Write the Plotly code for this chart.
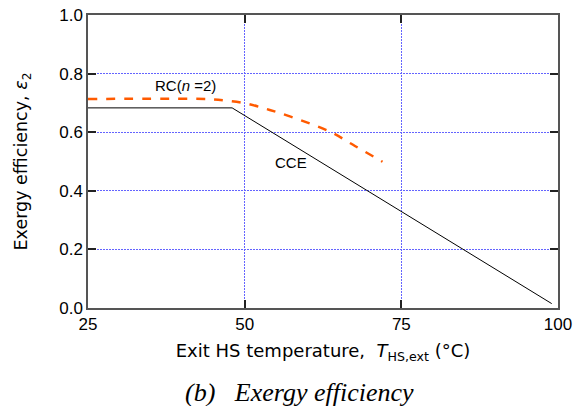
import plotly.graph_objects as go

# CCE data
cce_x = [25, 48, 99]
cce_y = [0.683, 0.683, 0.015]

# RC (n=2) data
rc_x = [25, 44, 47, 50, 54, 58.8, 63.6, 67.6, 72]
rc_y = [0.713, 0.713, 0.708, 0.699, 0.676, 0.642, 0.602, 0.553, 0.499]

x_ticks = [25, 50, 75, 100]
y_ticks = [0.0, 0.2, 0.4, 0.6, 0.8, 1.0]

fig = go.Figure()
fig.add_trace(go.Scatter(x=cce_x, y=cce_y, mode="lines",
                         line=dict(color="black", width=1), name="CCE"))
fig.add_trace(go.Scatter(x=rc_x, y=rc_y, mode="lines",
                         line=dict(color="#ff5a00", width=2.5, dash="dash", shape="spline"),
                         name="RC(n=2)"))

font = "Liberation Sans, Arial, sans-serif"
tfont = "DejaVu Sans, sans-serif"
axis_common = dict(showline=True, linecolor="#555555", linewidth=1.5, mirror="ticks",
                   ticks="inside", ticklen=8, tickwidth=2, tickcolor="#222222",
                   showgrid=True, gridcolor="rgb(100,100,255)", griddash="2px,1px", gridwidth=1,
                   zeroline=False, automargin=False,
                   tickfont=dict(family=font, size=17, color="black"))

fig.update_xaxes(range=[25, 100], tickvals=x_ticks, ticktext=[str(v) for v in x_ticks],
                 title=dict(text="Exit HS temperature,  <i>T</i><sub>HS,ext</sub> (°C)",
                            font=dict(family=tfont, size=18, color="black"), standoff=11),
                 **axis_common)
fig.update_yaxes(range=[0, 1], tickvals=y_ticks, ticktext=[f"{v:.1f}" for v in y_ticks],
                 title=dict(text="Exergy efficiency, <i>ε</i><sub>2</sub>",
                            font=dict(family=tfont, size=17.5, color="black"), standoff=27),
                 **axis_common)

fig.add_annotation(x=40.5, y=0.758, text="RC(<i>n</i> =2)", showarrow=False,
                   font=dict(family=font, size=15, color="black"))
fig.add_annotation(x=57.4, y=0.495, text="CCE", showarrow=False,
                   font=dict(family=font, size=15, color="black"))
fig.add_annotation(x=0.451, y=-0.287, xref="paper", yref="paper", xanchor="center",
                   yanchor="middle", text="<i>(b)&nbsp;&nbsp;&nbsp;Exergy efficiency</i>",
                   showarrow=False,
                   font=dict(family="Liberation Serif, Times New Roman, serif", size=26,
                             color="black"))

fig.update_layout(width=576, height=406, margin=dict(l=88, r=18, t=15, b=98),
                  plot_bgcolor="white", paper_bgcolor="white", showlegend=False)
fig.write_html("out.html")
